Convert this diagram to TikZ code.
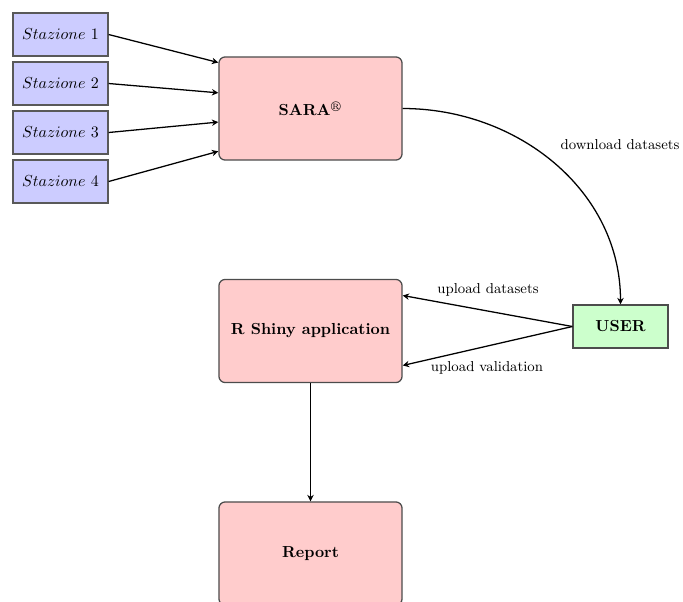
\documentclass[tikz,border=0pt]{standalone}
\usepackage{amsmath,amssymb}
\usepackage{tikz}
\usetikzlibrary{positioning, calc, arrows.meta}

\tikzset{
    stazbox/.style={rectangle, draw=black!65, fill=blue!20, minimum width=20.9mm, minimum height=9.5mm, inner sep=1pt},
    mainbox/.style={rectangle, rounded corners=4pt, draw=black!70, fill=red!20, minimum width=40.3mm, minimum height=22.7mm, font=\bfseries},
    userbox/.style={rectangle, draw=black!70, fill=green!20, minimum width=20.9mm, minimum height=9.5mm, font=\bfseries},
    lbl/.style={font=\small}
}

\begin{document}
\begin{tikzpicture}[thick, x=0.22mm, y=-0.22mm, >={Stealth[length=4pt,width=4pt]}]

    \useasboundingbox (0,0) rectangle (683,601);
    \clip (0,0) rectangle (683,601);

    % --- Stations ---
    \node[stazbox] (S1) at (60.5,34.5)  {$Stazione\ 1$};
    \node[stazbox] (S2) at (60.5,83.5)  {$Stazione\ 2$};
    \node[stazbox] (S3) at (60.5,132.5) {$Stazione\ 3$};
    \node[stazbox] (S4) at (60.5,181.5) {$Stazione\ 4$};

    % --- SARA database ---
    \node[mainbox] (SARA) at (310.5,108.5) {SARA$^{\circledR}$};

    % --- User ---
    \node[userbox] (USER) at (620.5,326.5) {USER};

    % --- Application and report ---
    \node[mainbox] (APP) at (310.5,331) {R Shiny application};
    \node[mainbox] (REP) at (310.5,553.5) {Report};

    % --- Stations into SARA ---
    \foreach \s/\f in {S1/0.06, S2/0.35, S3/0.63, S4/0.91}
        \draw[->] (\s.east) -- ($(SARA.north west)!\f!(SARA.south west)$);

    % --- Download ---
    \draw[->] (SARA.east) to[out=0, in=90] (USER.north);
    \node[lbl] (DL) at (620,145) {download datasets};

    % --- Uploads ---
    \draw[->] (USER.west) -- ($(APP.north east)!0.16!(APP.south east)$);
    \draw[->] (USER.west) -- ($(APP.north east)!0.83!(APP.south east)$);
    \node[lbl] (UD) at (488,290) {upload datasets};
    \node[lbl] (UV) at (487,368) {upload validation};

    % --- Report ---
    \draw[->] (APP.south) -- (REP.north);

\end{tikzpicture}
\end{document}
